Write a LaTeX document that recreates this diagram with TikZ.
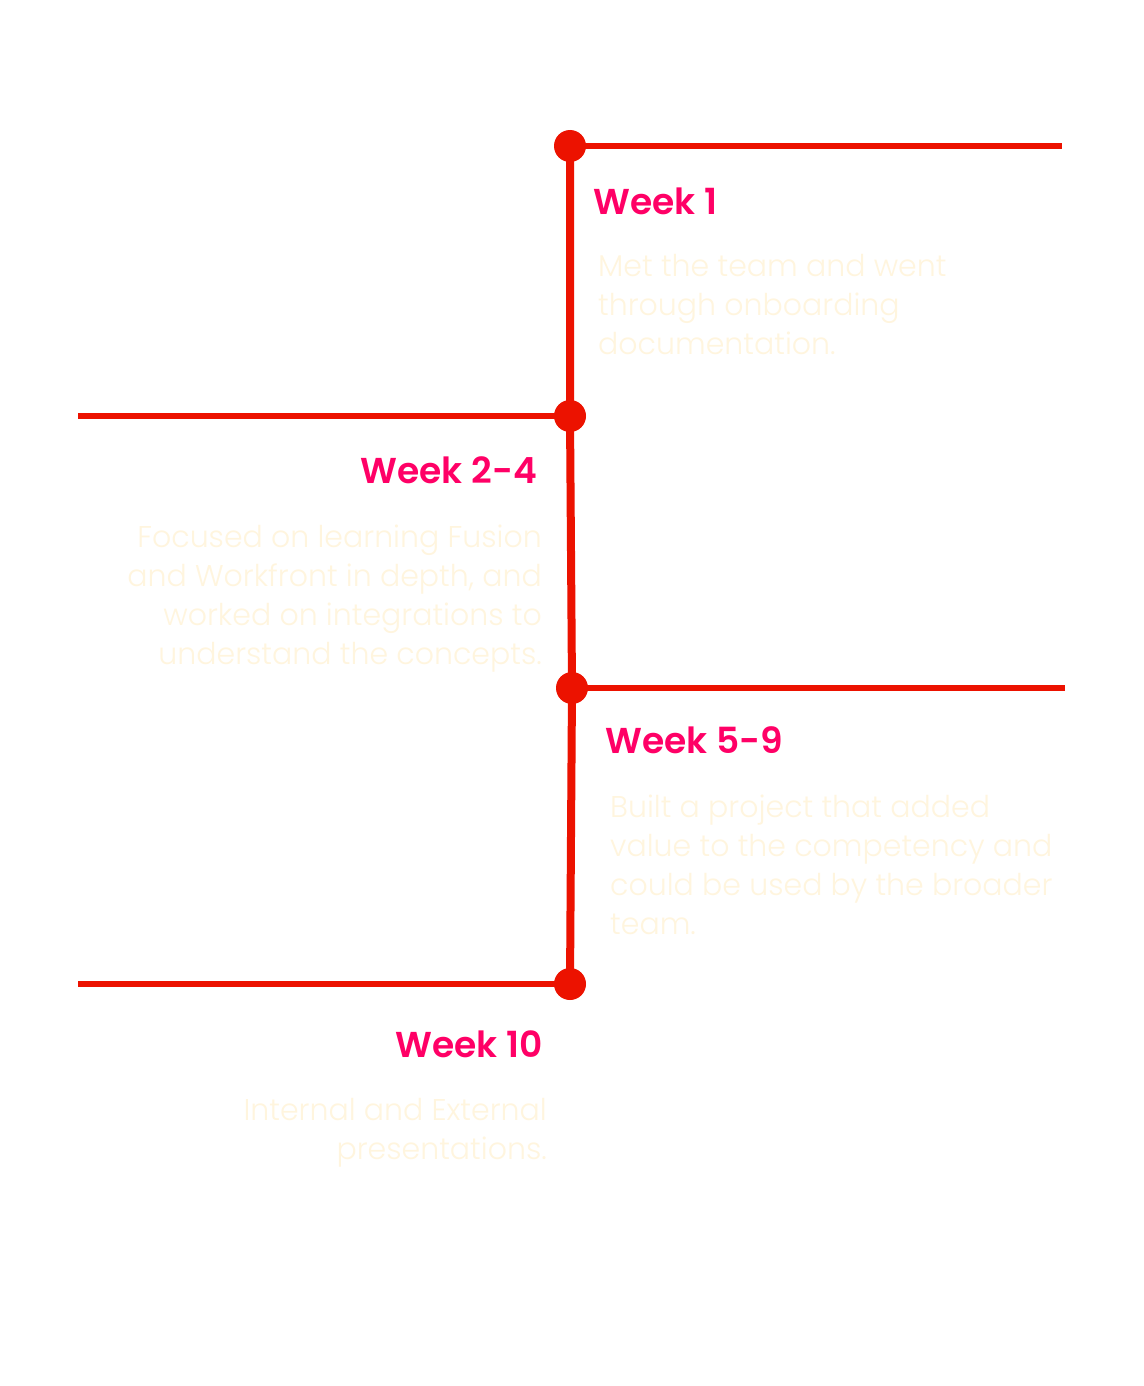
\documentclass[tikz,border=0pt]{standalone}
\usepackage{fontspec}
\setmainfont{Poppins}
\newfontfamily\headfont{Poppins SemiBold}
\newfontfamily\bodyfont{Poppins Light}
\definecolor{linered}{RGB}{236,18,0}
\definecolor{headpink}{RGB}{255,0,102}
\definecolor{bodycream}{RGB}{255,245,222}
\begin{document}
\begin{tikzpicture}[x=1pt,y=-1pt,
  dot/.style={circle,fill=linered,minimum size=32pt,inner sep=0pt},
  hline/.style={draw=linered,line width=6pt},
  vline/.style={draw=linered,line width=8pt},
  head/.style={text=headpink,font=\headfont\fontsize{36}{42}\selectfont,inner sep=0pt},
  body/.style={text=bodycream,font=\bodyfont\fontsize{30}{39}\selectfont,inner sep=0pt}]
\useasboundingbox[fill=white] (0,0) rectangle (1143,1386);
\coordinate (p1) at (570,146);
\coordinate (p2) at (570,416);
\coordinate (p3) at (572,688);
\coordinate (p4) at (570,984);
\coordinate (e1) at (1062,146);
\coordinate (e2) at (78,416);
\coordinate (e3) at (1065,688);
\coordinate (e4) at (78,984);
\draw[vline] (p1) -- (p2) -- (p3) -- (p4);
\draw[hline] (p1) -- (e1);
\draw[hline] (p2) -- (e2);
\draw[hline] (p3) -- (e3);
\draw[hline] (p4) -- (e4);
\node[dot] (d1) at (p1) {};
\node[dot] (d2) at (p2) {};
\node[dot] (d3) at (p3) {};
\node[dot] (d4) at (p4) {};
\node[head,anchor=base west] (h1) at (593,214) {Week 1};
\node[body,anchor=base west,align=left] (b1) at (598,354) {Met the team and went\\through onboarding\\documentation.};
\node[head,anchor=base east] (h2) at (537,483) {Week 2-4};
\node[body,anchor=base east,align=right] (b2) at (542,664) {Focused on learning Fusion\\and Workfront in depth, and\\worked on integrations to\\understand the concepts.};
\node[head,anchor=base west] (h3) at (605,753) {Week 5-9};
\node[body,anchor=base west,align=left] (b3) at (610,934) {Built a project that added\\value to the competency and\\could be used by the broader\\team.};
\node[head,anchor=base east] (h4) at (543,1057) {Week 10};
\node[body,anchor=base east,align=right] (b4) at (547,1159) {Internal and External\\presentations.};
\end{tikzpicture}
\end{document}
